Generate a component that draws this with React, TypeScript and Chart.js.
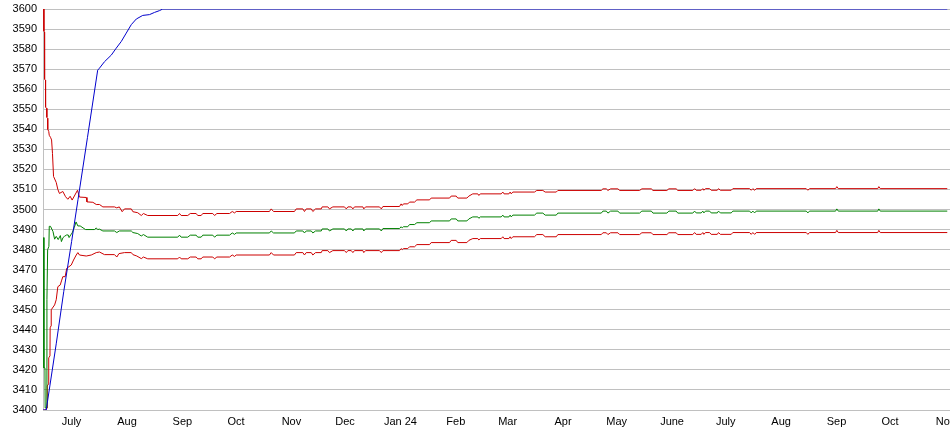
import React, { useEffect, useRef } from "react";
import { Chart, registerables } from "chart.js";

Chart.register(...registerables);

// x values are days since mid-June 2023
const tickDays = [16, 47, 78, 108, 139, 169, 200, 231, 260, 291, 321, 352, 382, 413, 444, 474, 505];
const tickLabels = ["July", "Aug", "Sep", "Oct", "Nov", "Dec", "Jan 24", "Feb", "Mar", "Apr", "May", "June", "July", "Aug", "Sep", "Oct", "Nov"];

const yTickStart = 3400;
const yTickEnd = 3600;
const yTickStep = 10;

const blueDays = [0, 1.8, 7.4, 11.6, 16, 19.6, 24.9, 30.6, 31.6, 34.4, 38.2, 41, 43.8, 46.6, 49.4, 52.2, 55.8, 59.6, 62.4, 65.2, 67, 506];
const blueValues = [3400, 3400, 3433, 3459, 3484, 3505, 3536, 3569.5, 3570.5, 3573.7, 3577, 3580.5, 3583.8, 3588, 3592.2, 3595, 3596.8, 3597.2, 3598.3, 3599.2, 3600, 3600];

const upperEarlyDays = [0.45, 0.5, 0.85, 0.9, 1.4, 1.45, 2.1, 2.15, 2.6, 2.65, 3.2, 3.5, 4.2, 4.8, 5.3, 5.9, 7.4, 8.3, 9.2, 11.1, 12.6, 13.9, 15.2, 16.3, 19.3, 20.4, 24.2, 24.6, 27.9, 29.8, 31.6, 33.5, 40, 41.3, 42.7, 44.3, 45.6, 49.4, 50.3, 53, 55, 56.2, 58.6];
const upperEarlyValues = [3600, 3589, 3588.5, 3565, 3564.5, 3551, 3550.5, 3546, 3545.5, 3540, 3539, 3537, 3536, 3534.7, 3528, 3516.5, 3513.5, 3510, 3508, 3509, 3506.4, 3505.1, 3506.6, 3504.7, 3509.6, 3506.2, 3506, 3503.8, 3503.6, 3502.5, 3502.5, 3501.3, 3501.3, 3500.8, 3501.3, 3498.9, 3500.3, 3500.3, 3498.9, 3498.4, 3497, 3498, 3497];

const middleEarlyDays = [0.4, 0.5, 1.1, 1.2, 1.8, 2.2, 2.6, 3.3, 3.5, 4.2, 5.6, 6.5, 7.4, 8.5, 9.7, 10.3, 11.2, 12.0, 13.2, 14.1, 14.6, 15.5, 16.3, 17.5, 18.5, 19.5, 20.8, 23.8, 28.8, 29.8, 30.6, 31.6, 33.5, 40, 41.3, 42.7, 49.4, 50.3, 53, 55, 56.2, 58.6];
const middleEarlyValues = [3486, 3421, 3421, 3401, 3401, 3455, 3480, 3481.6, 3491.6, 3491.6, 3489, 3485.2, 3486.6, 3485, 3487, 3484, 3486, 3486.6, 3487.3, 3487.3, 3486, 3487.3, 3488.3, 3491, 3493.8, 3491.8, 3491.8, 3490, 3490, 3490.8, 3490, 3490.2, 3489.3, 3489.3, 3488.5, 3489.3, 3489.3, 3488.5, 3488, 3486.8, 3487.5, 3486.2];

const lowerEarlyDays = [0.3, 1.4, 2.3, 2.4, 3.1, 3.2, 3.9, 4.0, 4.5, 4.6, 6.5, 7.4, 8.3, 9.6, 10.5, 11.1, 12.4, 13.3, 15.8, 17.1, 18.6, 19.5, 20.4, 24.2, 27, 29.8, 31.6, 34.4, 40, 41.3, 42.5, 45.6, 49.4, 50.3, 52.5, 55, 56.2, 58.6];
const lowerEarlyValues = [3400, 3400, 3401, 3412, 3413, 3426, 3427, 3441, 3442, 3450, 3452.4, 3455, 3461.5, 3462.3, 3464.8, 3466.5, 3466.5, 3470.7, 3472.3, 3474.8, 3477.3, 3478.5, 3477.3, 3476.8, 3477.3, 3478.5, 3478.8, 3477.5, 3477.5, 3476.3, 3478, 3478.5, 3478.5, 3477.5, 3476.8, 3475.5, 3476.3, 3475.4];

const lateDays = [
  75.4, 76.4, 77.3, 81, 82.4, 85.7, 86.6, 88.5, 89.4, 95,
  96, 97.3, 104.4, 105.9, 107.2, 108.1, 126.7, 127.7, 129, 140.7,
  141.7, 145.4, 146.3, 147.3, 150.1, 151, 152.5, 155.7, 156.2, 159.4,
  160.3, 162.2, 168.7, 169.7, 170.6, 172.5, 173.4, 174.3, 179, 179.5,
  180.5, 188.3, 189.3, 190.2, 199.5, 200.4, 201, 201.7, 204.1, 205.1,
  207.9, 209.2, 216.3, 217.2, 227.5, 228.4, 231.2, 232.1, 237.2, 238.3,
  240.5, 243.3, 243.9, 244.7, 256.4, 257.3, 258, 260.7, 261.4, 262,
  262.9, 275, 276.3, 279.7, 281, 287.2, 288.1, 312.4, 313.3, 315.2,
  316.1, 317.6, 321.7, 322.7, 333.8, 335.1, 340.4, 341.3, 349.1, 350.2,
  354.3, 355.2, 363.6, 364.6, 365.5, 368.3, 369.2, 369.8, 370.7, 373,
  373.9, 377.3, 378, 379, 385.1, 386, 395.4, 396.3, 397.2, 398.2,
  399.1, 427.1, 428, 428.9, 443.5, 444.2, 445, 467.1, 467.7, 468.5,
  506,
];

const upperLateValues = [
  3497, 3498, 3497, 3497, 3498, 3498, 3497, 3497, 3498, 3498,
  3497, 3498, 3498, 3499, 3498.3, 3499, 3499, 3500.3, 3499, 3499,
  3500.3, 3500.3, 3499, 3500.3, 3500.3, 3499, 3500.3, 3500.3, 3501.3, 3501.3,
  3500.3, 3501.3, 3501.3, 3500.3, 3501.3, 3501.3, 3500.3, 3501.3, 3501.3, 3500.3,
  3501.3, 3501.3, 3500.3, 3501.5, 3501.5, 3502.8, 3502, 3502.8, 3502.8, 3503.7,
  3503.7, 3504.8, 3504.8, 3505.7, 3505.7, 3506.7, 3506.7, 3505.7, 3505.7, 3506.7,
  3507.8, 3507.8, 3507, 3507.8, 3507.8, 3508.7, 3507.8, 3507.8, 3508.7, 3507.8,
  3508.7, 3508.7, 3509.5, 3509.5, 3508.7, 3508.7, 3509.5, 3509.5, 3510.3, 3510.3,
  3509.5, 3510.3, 3510.3, 3509.5, 3509.5, 3510.3, 3510.3, 3509.5, 3509.5, 3510.3,
  3510.3, 3509.5, 3509.5, 3510.4, 3509.6, 3509.6, 3510.4, 3509.6, 3510.4, 3510.4,
  3509.6, 3509.6, 3510.4, 3509.6, 3509.6, 3510.4, 3510.4, 3509.6, 3510.4, 3509.6,
  3510.4, 3510.4, 3509.6, 3510.4, 3510.4, 3511.4, 3510.4, 3510.4, 3511.4, 3510.4,
  3510.4,
];

const middleLateValues = [
  3486.2, 3487.2, 3486.2, 3486.2, 3487.2, 3487.2, 3486.2, 3486.2, 3487.2, 3487.2,
  3486.2, 3487.2, 3487.2, 3488.3, 3487.6, 3488.3, 3488.3, 3489.3, 3488.3, 3488.3,
  3489.3, 3489.3, 3488.3, 3489.3, 3489.3, 3488.3, 3489.3, 3489.3, 3490.3, 3490.3,
  3489.3, 3490.3, 3490.3, 3489.3, 3490.3, 3490.3, 3489.3, 3490.3, 3490.3, 3489.3,
  3490.3, 3490.3, 3489.3, 3490.5, 3490.5, 3491.4, 3490.8, 3491.4, 3491.4, 3492.5,
  3492.5, 3493.4, 3493.4, 3494.3, 3494.3, 3495.3, 3495.3, 3494.3, 3494.3, 3495.3,
  3496.3, 3496.3, 3495.6, 3496.3, 3496.3, 3497.2, 3496.3, 3496.3, 3497.2, 3496.3,
  3497.2, 3497.2, 3498.2, 3498.2, 3497.2, 3497.2, 3498.2, 3498.2, 3499.2, 3499.2,
  3498.2, 3499.2, 3499.2, 3498.2, 3498.2, 3499.2, 3499.2, 3498.2, 3498.2, 3499.2,
  3499.2, 3498.2, 3498.2, 3499.2, 3498.3, 3498.3, 3499.2, 3498.3, 3499.2, 3499.2,
  3498.3, 3498.3, 3499.2, 3498.3, 3498.3, 3499.2, 3499.2, 3498.3, 3499.2, 3498.3,
  3499.2, 3499.2, 3498.3, 3499.2, 3499.2, 3500.3, 3499.2, 3499.2, 3500.3, 3499.2,
  3499.2,
];

const lowerLateValues = [
  3475.4, 3476.3, 3475.4, 3475.4, 3476.3, 3476.3, 3475.4, 3475.4, 3476.3, 3476.3,
  3475.4, 3476.3, 3476.3, 3477.3, 3476.6, 3477.3, 3477.3, 3478.5, 3477.3, 3477.3,
  3478.5, 3478.5, 3477.3, 3478.5, 3478.5, 3477.3, 3478.5, 3478.5, 3479.5, 3479.5,
  3478.5, 3479.5, 3479.5, 3478.5, 3479.5, 3479.5, 3478.5, 3479.5, 3479.5, 3478.5,
  3479.5, 3479.5, 3478.5, 3479.5, 3479.5, 3480.5, 3480, 3480.5, 3480.5, 3481.4,
  3481.4, 3482.5, 3482.5, 3483.5, 3483.5, 3484.6, 3484.6, 3483.5, 3483.5, 3484.6,
  3485.5, 3485.5, 3484.8, 3485.5, 3485.5, 3486.4, 3485.5, 3485.5, 3486.4, 3485.5,
  3486.4, 3486.4, 3487.5, 3487.5, 3486.4, 3486.4, 3487.5, 3487.5, 3488.4, 3488.4,
  3487.5, 3488.4, 3488.4, 3487.5, 3487.5, 3488.4, 3488.4, 3487.5, 3487.5, 3488.4,
  3488.4, 3487.5, 3487.5, 3488.5, 3487.6, 3487.6, 3488.5, 3487.6, 3488.5, 3488.5,
  3487.6, 3487.6, 3488.5, 3487.6, 3487.6, 3488.5, 3488.5, 3487.6, 3488.5, 3487.6,
  3488.5, 3488.5, 3487.6, 3488.5, 3488.5, 3489.6, 3488.5, 3488.5, 3489.6, 3488.5,
  3488.5,
];

const RED = "#cc0000";
const GREEN = "#008000";
const BLUE = "#0000cc";
const GRID = "#c0c0c0";
const FONT = { family: '"Liberation Sans", Arial, sans-serif', size: 11 };

function toPoints(days: number[], values: number[]) {
  return days.map((x, i) => ({ x, y: values[i] }));
}

export default function App() {
  const ref = useRef<HTMLCanvasElement>(null);

  useEffect(() => {
    const lineStyle = (color: string) => ({
      borderColor: color,
      backgroundColor: color,
      borderWidth: 1,
      pointRadius: 0,
      pointHoverRadius: 0,
      tension: 0,
      fill: false,
    });
    const chart = new Chart(ref.current as HTMLCanvasElement, {
      type: "line",
      data: {
        datasets: [
          { label: "Blue", data: toPoints(blueDays, blueValues), ...lineStyle(BLUE) },
          { label: "Upper", data: toPoints(upperEarlyDays.concat(lateDays), upperEarlyValues.concat(upperLateValues)), ...lineStyle(RED) },
          { label: "Middle", data: toPoints(middleEarlyDays.concat(lateDays), middleEarlyValues.concat(middleLateValues)), ...lineStyle(GREEN) },
          { label: "Lower", data: toPoints(lowerEarlyDays.concat(lateDays), lowerEarlyValues.concat(lowerLateValues)), ...lineStyle(RED) },
        ],
      },
      options: {
        animation: false,
        responsive: false,
        events: [],
        layout: { padding: { top: 0, left: 0, right: 0, bottom: 0 } },
        plugins: { legend: { display: false }, tooltip: { enabled: false } },
        scales: {
          x: {
            type: "linear",
            min: 0,
            max: 535.5,
            grid: { display: false, drawTicks: false },
            border: { display: false },
            afterFit: (s: any) => { s.height = 25; },
            afterBuildTicks: (s: any) => { s.ticks = tickDays.map((v) => ({ value: v })); },
            ticks: {
              autoSkip: false,
              maxRotation: 0,
              padding: 5,
              color: "#000",
              font: FONT,
              callback: (_v: any, i: number) => tickLabels[i],
            },
          },
          y: {
            type: "linear",
            min: yTickStart,
            max: yTickEnd,
            grid: { color: GRID, lineWidth: 1, drawTicks: false },
            border: { display: true, color: GRID, width: 1 },
            afterFit: (s: any) => { s.width = 43; s.paddingTop = 9; s.paddingBottom = 0; },
            ticks: {
              stepSize: yTickStep,
              autoSkip: false,
              padding: 6,
              color: "#000",
              font: FONT,
              callback: (v: any) => String(v),
            },
          },
        },
      },
    });
    return () => chart.destroy();
  }, []);

  return (
    <div style={{ position: "fixed", left: 0, top: 0, width: 950, height: 435, overflow: "hidden", background: "#fff" }}>
      <canvas ref={ref} width={1000} height={435} style={{ display: "block" }} />
    </div>
  );
}
